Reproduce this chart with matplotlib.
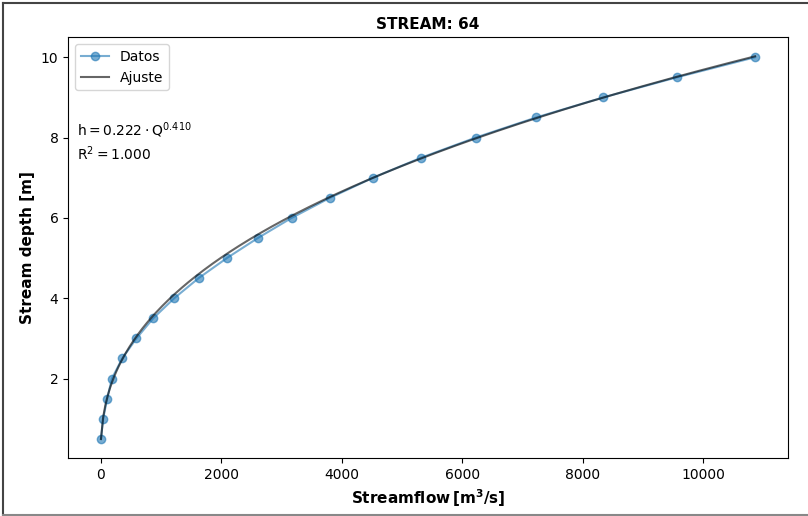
import numpy as np
import matplotlib
matplotlib.use('Agg')
import matplotlib.pyplot as plt
from matplotlib.lines import Line2D

# rating curve data
stream_id = 64
depth = [0.5, 1.0, 1.5, 2.0, 2.5, 3.0, 3.5, 4.0, 4.5, 5.0,
         5.5, 6.0, 6.5, 7.0, 7.5, 8.0, 8.5, 9.0, 9.5, 10.0]
flow = [7, 43, 110, 188, 359, 595, 873, 1222, 1627, 2096,
        2611, 3170, 3806, 4520, 5321, 6224, 7225, 8342, 9560, 10860]

# fitted power law h = a * Q^b
coef_a = 0.222
coef_b = 0.410
r2 = 1.000


def plot():
    fig = plt.figure(figsize=(8.08, 5.16), dpi=100)
    ax = fig.add_axes([0.0845, 0.112, 0.8905, 0.816])

    q = np.array(flow, dtype=float)
    h = np.array(depth, dtype=float)
    q_fit = np.linspace(q.min(), q.max(), 300)
    h_fit = coef_a * q_fit ** coef_b

    ax.plot(q, h, 'o-', color='C0', alpha=0.6, label='Datos')
    ax.plot(q_fit, h_fit, '-', color='k', alpha=0.6, lw=1.5, label='Ajuste')

    ax.legend(loc='upper left')
    ax.text(0.0125, 0.78, r'$\mathrm{h = %.3f \cdot Q^{%.3f}}$' % (coef_a, coef_b),
            transform=ax.transAxes, fontsize=10, va='center')
    ax.text(0.0125, 0.723, r'$\mathrm{R^2 = %.3f}$' % r2,
            transform=ax.transAxes, fontsize=10, va='center')

    ax.set_xticks([0, 2000, 4000, 6000, 8000, 10000])
    ax.set_yticks([2, 4, 6, 8, 10])
    ax.set_xlabel(r'Streamflow$\,\mathbf{[m^3/s]}$', fontsize=11, fontweight='bold')
    ax.set_ylabel('Stream depth [m]', fontsize=11, fontweight='bold')
    ax.set_title('STREAM: %d' % stream_id, fontsize=11, fontweight='bold')

    # screenshot frame: top, left and bottom edges only
    fig.lines.append(Line2D([0.004, 1.0], [0.995, 0.995], transform=fig.transFigure,
                            color='#444444', lw=1.5))
    fig.lines.append(Line2D([0.004, 0.004], [0.002, 0.995], transform=fig.transFigure,
                            color='#444444', lw=1.5))
    fig.lines.append(Line2D([0.004, 1.0], [0.002, 0.002], transform=fig.transFigure,
                            color='#888888', lw=1.5))

    plt.savefig('out.png', dpi=100)


if __name__ == '__main__':
    plot()
